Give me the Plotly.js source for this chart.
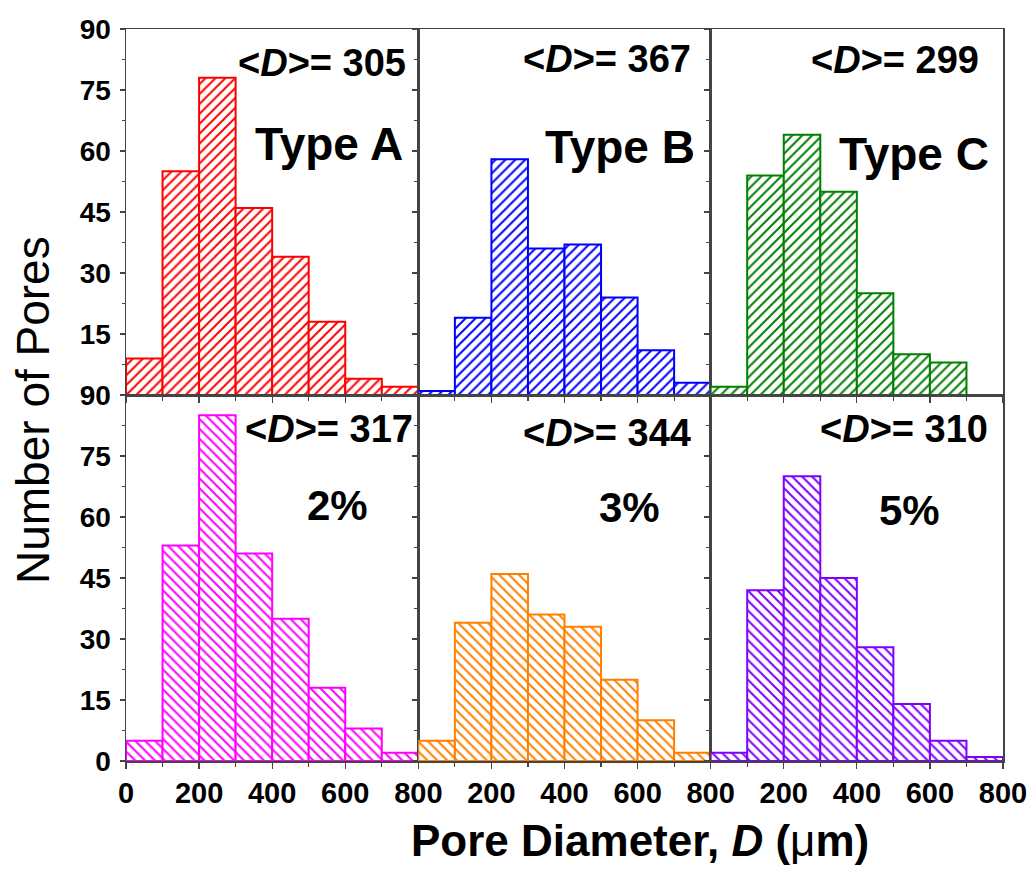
<!DOCTYPE html>
<html>
<head>
<meta charset="utf-8">
<script src="https://cdn.plot.ly/plotly-3.0.1.min.js"></script>
<style>
  html, body { margin: 0; padding: 0; background: #ffffff; }
  #chart { width: 1030px; height: 869px; }
</style>
</head>
<body>
<div id="chart"></div>
<script>
// Bin lower edges (µm), bin width 100
const binStarts = [0, 100, 200, 300, 400, 500, 600, 700];
const binWidth = 100;

// Pore counts per bin
const typeA = [9, 55, 78, 46, 34, 18, 4, 2];
const typeB = [1, 19, 58, 36, 37, 24, 11, 3];
const typeC = [2, 54, 64, 50, 25, 10, 8, 0];
const pct2  = [5, 53, 85, 51, 35, 18, 8, 2];
const pct3  = [5, 34, 46, 36, 33, 20, 10, 2];
const pct5  = [2, 42, 70, 45, 28, 14, 5, 1];

const panelNames = ["Type A", "Type B", "Type C", "2%", "3%", "5%"];
const meanD = [305, 367, 299, 317, 344, 310];
const seriesList = [typeA, typeB, typeC, pct2, pct3, pct5];
const colors = ["#FF0000", "#0000FF", "#008000", "#FF00FF", "#FF8000", "#8000FF"];

const yTicksTop = [15, 30, 45, 60, 75, 90];
const yTicksBottom = [0, 15, 30, 45, 60, 75, 90];
const xTicksFirst = [0, 200, 400, 600, 800];
const xTicksOther = [200, 400, 600, 800];

const FONT = "Liberation Sans, Arial, Helvetica, sans-serif";

const traces = [];
seriesList.forEach((vals, i) => {
  const n = i + 1;
  traces.push({
    type: "bar",
    x: binStarts,
    y: vals,
    width: binWidth,
    offset: 0,
    xaxis: "x" + (n === 1 ? "" : n),
    yaxis: "y" + (n === 1 ? "" : n),
    marker: {
      color: "#ffffff",
      line: { color: colors[i], width: 2 },
      pattern: { shape: i < 3 ? "/" : "\\", fgcolor: colors[i], bgcolor: "#ffffff", size: 7, solidity: 0.28 }
    },
    showlegend: false,
    hoverinfo: "x+y"
  });
});

const layout = {
  width: 1030,
  height: 869,
  margin: { l: 126, r: 27, t: 29, b: 108 },
  paper_bgcolor: "#ffffff",
  plot_bgcolor: "#ffffff",
  bargap: 0,
  showlegend: false,
  font: { family: FONT, color: "#000000" },
  annotations: []
};

const xDomains = [[0, 1/3], [1/3, 2/3], [2/3, 1]];
for (let i = 0; i < 6; i++) {
  const n = i + 1;
  const col = i % 3;
  const row = Math.floor(i / 3);
  const xa = "xaxis" + (n === 1 ? "" : n);
  const ya = "yaxis" + (n === 1 ? "" : n);
  const yRef = "y" + (n === 1 ? "" : n);
  const xRef = "x" + (n === 1 ? "" : n);
  layout[xa] = {
    domain: xDomains[col],
    anchor: yRef,
    range: [0, 800],
    tickvals: col === 0 ? xTicksFirst : xTicksOther,
    showticklabels: row === 1,
    ticks: "outside",
    ticklen: 6,
    tickwidth: 1.2,
    tickcolor: "#444",
    minor: { tickvals: [100, 300, 500, 700], ticks: "outside", ticklen: 4, tickcolor: "#444" },
    showline: true,
    mirror: true,
    linecolor: "#444",
    linewidth: 1.5,
    showgrid: false,
    zeroline: false,
    ticklabelstandoff: 0,
    tickfont: { family: FONT, size: 29, weight: "bold", color: "#000" },
    fixedrange: true
  };
  layout[ya] = {
    domain: row === 0 ? [0.5, 1] : [0, 0.5],
    anchor: xRef,
    range: [0, 90],
    tickvals: row === 0 ? yTicksTop : yTicksBottom,
    showticklabels: col === 0,
    ticks: "outside",
    ticklen: 5,
    tickwidth: 1.2,
    tickcolor: "#444",
    minor: { dtick: 7.5, ticks: "outside", ticklen: 3, tickcolor: "#444" },
    showline: true,
    mirror: true,
    linecolor: "#444",
    linewidth: 1.5,
    showgrid: false,
    zeroline: false,
    ticklabelstandoff: 3,
    tickfont: { family: FONT, size: 28, weight: "bold", color: "#000" },
    fixedrange: true
  };
}

// pixel helpers for annotation placement (plot area 126..1003 x 29..761)
const px = v => (v - 126) / 877;
const py = v => (761 - v) / 732;

// <D> labels (centre positions in pixels)
const meanPos = [[322, 63.5], [607, 59.5], [895, 60], [329, 428.5], [607, 432.5], [904, 429]];
const namePos = [[329, 143.5], [620, 146.5], [914, 154], [337, 505], [629, 507.5], [909, 511]];
const nameSize = [46, 46, 46, 42, 42, 42];

for (let i = 0; i < 6; i++) {
  layout.annotations.push({
    xref: "paper", yref: "paper",
    x: px(meanPos[i][0]), y: py(meanPos[i][1]),
    xanchor: "center", yanchor: "middle",
    text: "<b>&lt;<i>D</i>&gt;= " + meanD[i] + "</b>",
    showarrow: false,
    font: { family: FONT, size: 38, color: "#000" }
  });
  layout.annotations.push({
    xref: "paper", yref: "paper",
    x: px(namePos[i][0]), y: py(namePos[i][1]),
    xanchor: "center", yanchor: "middle",
    text: "<b>" + panelNames[i] + "</b>",
    showarrow: false,
    font: { family: FONT, size: nameSize[i], color: "#000" }
  });
}

// Axis titles
layout.annotations.push({
  xref: "paper", yref: "paper",
  x: px(640), y: py(840),
  xanchor: "center", yanchor: "middle",
  text: "<b>Pore Diameter, <i>D</i> (</b>μ<b>m)</b>",
  showarrow: false,
  font: { family: FONT, size: 44, color: "#000" }
});
layout.annotations.push({
  xref: "paper", yref: "paper",
  x: px(33), y: py(410),
  xanchor: "center", yanchor: "middle",
  textangle: -90,
  text: "Number of Pores",
  showarrow: false,
  font: { family: FONT, size: 46, color: "#000" }
});

Plotly.newPlot("chart", traces, layout, { displayModeBar: false, staticPlot: true });
</script>
</body>
</html>
